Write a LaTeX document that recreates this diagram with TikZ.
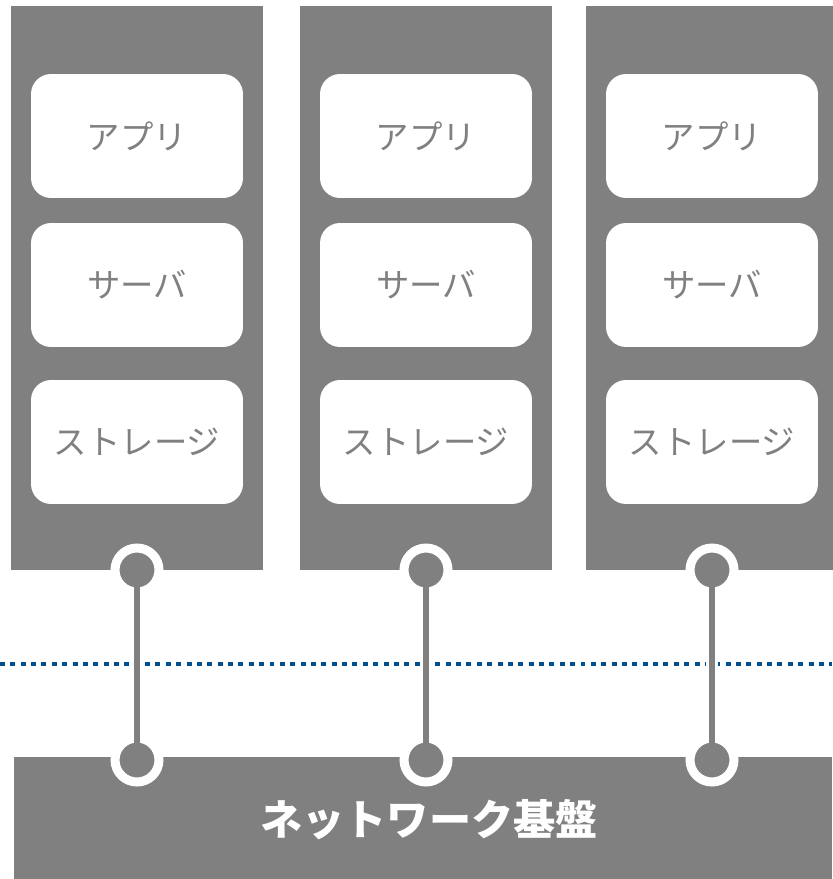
\documentclass[tikz,border=0pt]{standalone}
\usepackage{fontspec}
\newfontfamily\jpfont{Noto Sans CJK JP}
\usetikzlibrary{positioning}

\definecolor{rackgray}{RGB}{128,128,128}
\definecolor{netblue}{RGB}{0,80,145}

\begin{document}
\begin{tikzpicture}[x=0.02cm,y=-0.02cm,
    layer/.style={fill=white,rounded corners=0.4cm,minimum width=4.24cm,minimum height=2.48cm,
        inner sep=0pt,text=rackgray,font=\jpfont\fontsize{19}{19}\selectfont},
    port/.style={circle,fill=rackgray,draw=white,line width=0.18cm,minimum size=0.88cm,inner sep=0pt}]
    \useasboundingbox (0,0) rectangle (832,879);
    % base and boundary
    \fill[rackgray] (14,757) rectangle (832,879);
    \draw[netblue,line width=2.83pt,dash pattern=on 2.83pt off 3.07pt] (0,664) -- (832,664);
    \foreach \i/\x in {1/137,2/426,3/712}{
        \fill[rackgray] (\x-126,6) rectangle (\x+126,570);
        \node[layer] (app\i) at (\x,136) {アプリ};
        \node[layer] (srv\i) at (\x,285) {サーバ};
        \node[layer] (sto\i) at (\x,442) {ストレージ};
        \node[port] (top\i) at (\x,570) {};
        \node[port] (bot\i) at (\x,760) {};
        \draw[white,line width=0.24cm] (top\i) -- (bot\i);
        \draw[rackgray,line width=0.12cm] (top\i.center) -- (bot\i.center);
    }
    \node[text=white,font=\jpfont\bfseries\fontsize{24}{24}\selectfont] (net) at (429,820) {ネットワーク基盤};
\end{tikzpicture}
\end{document}
